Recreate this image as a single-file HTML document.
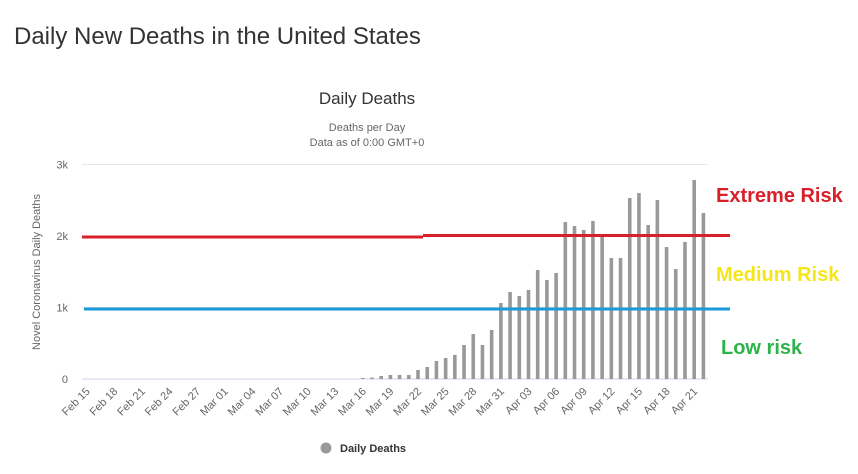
<!DOCTYPE html>
<html><head><meta charset="utf-8"><style>
body{margin:0;background:#fff;width:858px;height:474px;overflow:hidden;font-family:"Liberation Sans",sans-serif}
svg{position:absolute;left:0;top:0}
</style></head><body>
<svg id="chart" width="858" height="474">
<text x="14" y="44" font-size="24" fill="#333">Daily New Deaths in the United States</text>
<text x="367" y="104" font-size="17" fill="#333" text-anchor="middle">Daily Deaths</text>
<text x="367" y="131" font-size="11" fill="#666" text-anchor="middle">Deaths per Day</text>
<text x="367" y="146" font-size="11" fill="#666" text-anchor="middle">Data as of 0:00 GMT+0</text>
<text transform="translate(40,272) rotate(-90)" font-size="11" fill="#666" text-anchor="middle">Novel Coronavirus Daily Deaths</text>
<g id="grid"></g><g id="bars"></g><g id="xl"></g>
<line x1="82" x2="423" y1="237" y2="237" stroke="#d9202a" stroke-width="3"/>
<line x1="423" x2="730" y1="235.5" y2="235.5" stroke="#d9202a" stroke-width="3"/>
<line x1="84" x2="730" y1="309" y2="309" stroke="#1a9ad6" stroke-width="3"/>
<text x="716" y="202" font-size="20" font-weight="bold" fill="#d9202a">Extreme Risk</text>
<text x="716" y="281" font-size="20" font-weight="bold" fill="#f5e61a">Medium Risk</text>
<text x="721" y="354" font-size="20" font-weight="bold" fill="#2db34a">Low risk</text>
<g>
<circle cx="326" cy="448" r="5.5" fill="#999"/>
<text x="340" y="452" font-size="11" font-weight="bold" fill="#333">Daily Deaths</text>
</g>
</svg>
<script>
const yTicks=[0,1000,2000,3000];
const yTickLabels=["0","1k","2k","3k"];
const startDates=["Feb 15"];
const values=[0,0,0,0,0,0,0,0,0,0,0,0,0,0,0,0,0,0,0,0,0,0,0,0,0,0,0,0,0,0,
14,20,42,56,56,56,126,168,252,294,336,476,629,476,685,1063,
1217,1161,1245,1524,1385,1483,2196,2140,2084,2210,2000,1692,1692,2531,2601,2154,2503,1846,1538,1916,2783,2322];
const months=["Feb","Mar","Apr"],mdays=[29,31,30];
const categories=[];
{let m=0,d=15;for(let i=0;i<values.length;i++){categories.push(months[m]+" "+String(d).padStart(2,"0"));d++;if(d>mdays[m]){d=1;m++;}}}
const NS="http://www.w3.org/2000/svg";
const x0=82,x1=708,y0=379,yTop=164.5,yMax=3000;
const bw=(x1-x0)/categories.length;
const xc=i=>x0+bw*(i+0.5);
const y=v=>y0-(v/yMax)*(y0-yTop);
const mk=(t,a)=>{const e=document.createElementNS(NS,t);for(const k in a)e.setAttribute(k,a[k]);return e;};
const grid=document.getElementById("grid");
yTicks.forEach((v,i)=>{
 const l=mk("line",{x1:x0,x2:x1,y1:y(v),y2:y(v),stroke:i==0?"#ccd6eb":"#e6e6e6","stroke-width":1});
 
 
 grid.appendChild(l);
 const t=mk("text",{x:68,y:y(v)+4,"font-size":11,fill:"#666","text-anchor":"end"});
 t.textContent=yTickLabels[i];
 
 
 grid.appendChild(t);
});
const bars=document.getElementById("bars");
values.forEach((v,i)=>{
 if(v<=0)return;
 const r=mk("rect",{x:xc(i)-1.8,y:y(v),width:3.6,height:y0-y(v),fill:"#999"});
 
 
 bars.appendChild(r);
});
const xl=document.getElementById("xl");
categories.forEach((c,i)=>{
 if(i%3)return;
 const t=mk("text",{x:0,y:0,"font-size":11,fill:"#666","text-anchor":"end",transform:`translate(${xc(i)+4},${y0+13}) rotate(-45)`});
 t.textContent=c;
 
 
 xl.appendChild(t);
});
</script>
</body></html>
